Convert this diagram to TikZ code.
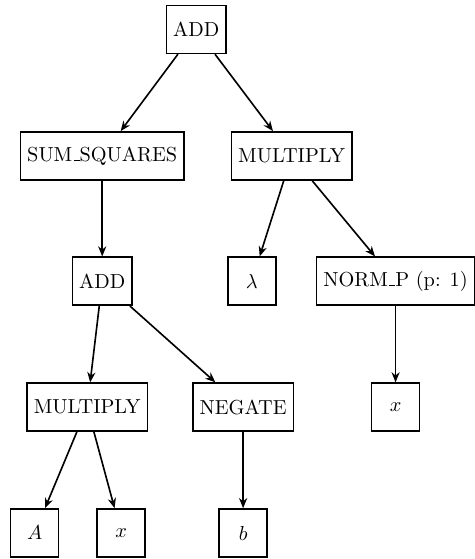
\documentclass[tikz,border=0pt]{standalone}
\usepackage{amsmath}
\usepackage{amssymb}
\usepackage{tikz}
\usetikzlibrary{arrows.meta}

% short underscore rule as in the old CM fonts
\newcommand{\uscore}{\leavevmode\kern.06em\vbox{\hrule width.3em}}

\begin{document}
\begin{tikzpicture}[
    opbox/.style={draw, thick, minimum width=0.83cm, minimum height=0.83cm},
    edge/.style={-{Stealth[length=5pt,width=4pt]}, thick}
  ]
      % page size
      \useasboundingbox (0,0) rectangle (8.22,-9.68);

      % Operation nodes
      \node[opbox] (add) at (3.40,-0.51) {ADD};
      \node[opbox] (sumsq) at (1.77,-2.70) {SUM\uscore SQUARES};
      \node[opbox] (mulA) at (5.05,-2.70) {MULTIPLY};

      \node[opbox] (addB) at (1.77,-4.87) {ADD};
      \node[opbox] (lam) at (4.36,-4.87) {$\lambda$};
      \node[opbox] (norm) at (6.85,-4.87) {NORM\uscore P (p: 1)};

      \node[opbox] (mulB) at (1.51,-7.05) {MULTIPLY};
      \node[opbox] (neg) at (4.21,-7.05) {NEGATE};
      \node[opbox] (xA) at (6.85,-7.05) {$x$};

      % Leaves
      \node[opbox] (mA) at (0.60,-9.23) {$A$};
      \node[opbox] (xB) at (2.10,-9.23) {$x$};
      \node[opbox] (vb) at (4.21,-9.23) {$b$};

      % Draw the edges
      \draw[edge] (add) -- (sumsq);
      \draw[edge] (add) -- (mulA);
      \draw[edge] (sumsq) -- (addB);
      \draw[edge] (mulA) -- (lam);
      \draw[edge] (mulA) -- (norm);
      \draw[edge] (addB) -- (mulB);
      \draw[edge] (addB) -- (neg);
      \draw[edge] (norm) -- (xA);
      \draw[edge] (mulB) -- (mA);
      \draw[edge] (mulB) -- (xB);
      \draw[edge] (neg) -- (vb);
    \end{tikzpicture}
\end{document}
